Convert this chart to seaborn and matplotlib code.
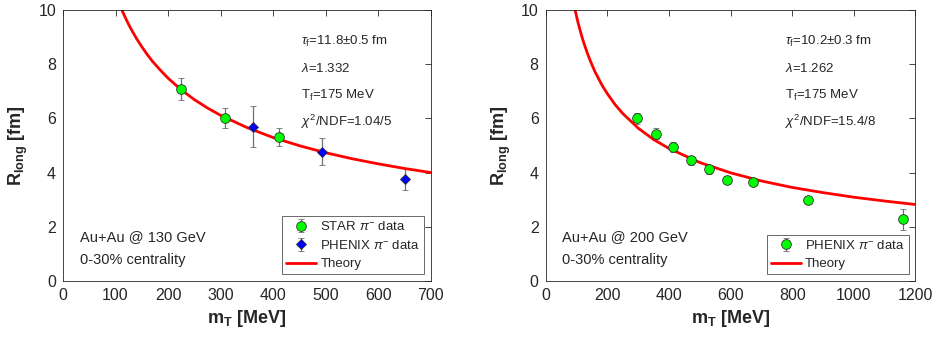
import matplotlib
matplotlib.use("Agg")
import matplotlib.pyplot as plt
import seaborn as sns

# ---- data ----
# Au+Au 130 GeV
star130_mt = [224, 308, 411]
star130_r = [7.08, 6.00, 5.32]
star130_err = [0.40, 0.37, 0.34]
phenix130_mt = [361, 493, 651]
phenix130_r = [5.69, 4.77, 3.76]
phenix130_err = [0.75, 0.49, 0.40]
theory130_mt = [105, 110, 115, 120, 125, 130, 140, 150, 160, 170, 180, 190,
                200, 225, 250, 275, 300, 350, 400, 450, 500, 550, 600, 650, 700]
theory130_r = [10.33, 10.09, 9.87, 9.66, 9.46, 9.28, 8.94, 8.64, 8.36, 8.11,
               7.89, 7.68, 7.48, 7.05, 6.69, 6.38, 6.11, 5.66, 5.29, 4.99,
               4.73, 4.51, 4.32, 4.15, 4.00]

# Au+Au 200 GeV
phenix200_mt = [296, 358, 414, 471, 529, 588, 674, 851, 1160]
phenix200_r = [6.00, 5.44, 4.94, 4.45, 4.12, 3.73, 3.65, 2.99, 2.28]
phenix200_err = [0.21, 0.19, 0.20, 0.17, 0.17, 0.14, 0.12, 0.12, 0.39]
theory200_mt = [90, 95, 100, 105, 110, 115, 120, 125, 135, 140, 150, 160, 175,
                185, 200, 225, 250, 300, 350, 400, 500, 600, 700, 800, 900,
                1000, 1100, 1200]
theory200_r = [10.30, 10.02, 9.77, 9.53, 9.32, 9.11, 8.92, 8.74, 8.41, 8.26,
               7.98, 7.72, 7.39, 7.18, 6.91, 6.51, 6.18, 5.64, 5.22, 4.89,
               4.37, 3.99, 3.69, 3.45, 3.26, 3.09, 2.95, 2.82]

params130 = [r"$\tau_{\rm f}$=11.8$\pm$0.5 fm", r"$\lambda$=1.332",
             r"T$_{\rm f}$=175 MeV", r"$\chi^2$/NDF=1.04/5"]
params200 = [r"$\tau_{\rm f}$=10.2$\pm$0.3 fm", r"$\lambda$=1.262",
             r"T$_{\rm f}$=175 MeV", r"$\chi^2$/NDF=15.4/8"]

sns.set_theme(style="white")
plt.rcParams["font.family"] = ["Liberation Sans", "DejaVu Sans"]
plt.rcParams["mathtext.fontset"] = "custom"
plt.rcParams["mathtext.rm"] = "Liberation Sans"
plt.rcParams["mathtext.it"] = "Liberation Sans:italic"
plt.rcParams["mathtext.bf"] = "Liberation Sans:bold"

fig = plt.figure(figsize=(9.36, 3.41), dpi=100)
ax1 = fig.add_axes([0.0673, 0.176, 0.393, 0.795])
ax2 = fig.add_axes([0.583, 0.176, 0.395, 0.795])

err_kw = dict(ls="none", ecolor="#707070", elinewidth=0.9, capsize=2.5,
              capthick=0.9, markeredgecolor="#303030", markeredgewidth=0.6)

# left panel
ax1.errorbar(star130_mt, star130_r, yerr=star130_err, marker="o", ms=7,
             mfc="#00ff00", label=r"STAR $\pi^{-}$ data", **err_kw)
ax1.errorbar(phenix130_mt, phenix130_r, yerr=phenix130_err, marker="D", ms=5.5,
             mfc="#0000ff", label=r"PHENIX $\pi^{-}$ data", **err_kw)
sns.lineplot(x=theory130_mt, y=theory130_r, ax=ax1, color="red", lw=2,
             label="Theory", sort=False)

# right panel
ax2.errorbar(phenix200_mt, phenix200_r, yerr=phenix200_err, marker="o", ms=7,
             mfc="#00ff00", label=r"PHENIX $\pi^{-}$ data", **err_kw)
sns.lineplot(x=theory200_mt, y=theory200_r, ax=ax2, color="red", lw=2,
             label="Theory", sort=False)

for ax, xmax, step, params, energy in [
        (ax1, 700, 100, params130, "130"),
        (ax2, 1200, 200, params200, "200")]:
    ax.set_xlim(0, xmax)
    ax.set_ylim(0, 10)
    ax.set_xticks(range(0, xmax + 1, step))
    ax.set_yticks(range(0, 11, 2))
    ax.tick_params(direction="in", length=4, width=0.6, top=True, right=True,
                   labelsize=11.5, colors="#262626", pad=5)
    for s in ax.spines.values():
        s.set_color("#262626")
        s.set_linewidth(0.6)
    ax.set_xlabel(r"m$_{\mathbf{T}}$ [MeV]", fontsize=13, fontweight="bold",
                  color="#262626", labelpad=4)
    ax.set_ylabel(r"R$_{\mathbf{long}}$ [fm]", fontsize=13, fontweight="bold",
                  color="#262626", labelpad=6)
    for i, t in enumerate(params):
        ax.text(0.648, 0.885 - i * 0.1, t, transform=ax.transAxes,
                fontsize=9.5, va="center", color="#262626")
    ax.text(0.045, 0.162, f"Au+Au @ {energy} GeV", transform=ax.transAxes,
            fontsize=10.5, va="center", color="#262626")
    ax.text(0.045, 0.077, "0-30% centrality", transform=ax.transAxes,
            fontsize=10.5, va="center", color="#262626")
    handles, labels = ax.get_legend_handles_labels()
    order = [labels.index(l) for l in labels if l != "Theory"] + [labels.index("Theory")]
    leg = ax.legend([handles[i] for i in order], [labels[i] for i in order],
                    loc="lower right", bbox_to_anchor=(0.985, 0.02),
                    fontsize=9.5, frameon=True, fancybox=False, borderpad=0.3,
                    handlelength=2.3, handletextpad=0.3, labelspacing=0.45,
                    borderaxespad=0.1)
    leg.get_frame().set_edgecolor("#262626")
    leg.get_frame().set_linewidth(0.6)

fig.savefig("out.png", dpi=100)
